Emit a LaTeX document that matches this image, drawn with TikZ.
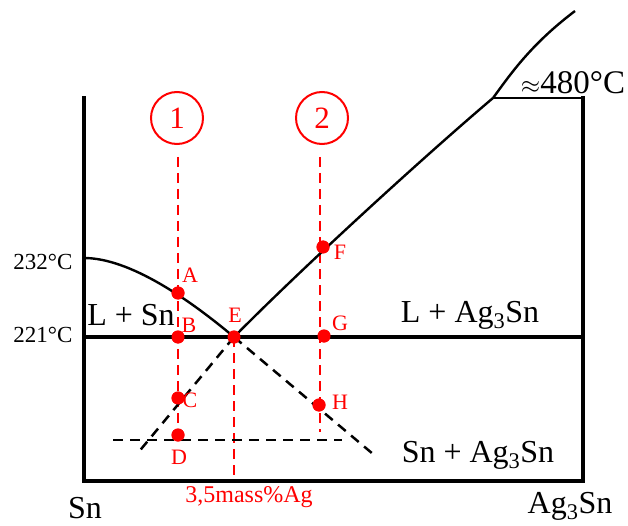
\documentclass[tikz,border=0pt]{standalone}
\usepackage{fontspec}
\setmainfont{Liberation Serif}
\usepackage{tikz}
\usetikzlibrary{positioning,calc}
\tikzset{
  axisline/.style={line width=4pt, line cap=rect},
  phaseline/.style={line width=2.4pt},
  eutline/.style={line width=3.5pt},
  blackdash/.style={line width=2.5pt, dash pattern=on 10pt off 7pt},
  reddash/.style={red, line width=2pt, dash pattern=on 10pt off 6pt},
  pt/.style={circle, fill=red, minimum size=13pt, inner sep=0pt},
  ptlabel/.style={red, font=\fontsize{22}{22}\selectfont, inner sep=0pt},
  complabel/.style={red, font=\fontsize{24}{24}\selectfont, inner sep=0pt},
  templabel/.style={font=\fontsize{23}{23}\selectfont, inner sep=0pt},
  phaselabel/.style={font=\fontsize{32}{32}\selectfont, inner sep=0pt},
  alloy/.style={circle, draw=red, line width=2pt, minimum size=52pt, inner sep=0pt, text=red, font=\fontsize{31}{31}\selectfont},
}
\begin{document}
\begin{tikzpicture}[x=1pt, y=-1pt]
  \useasboundingbox (0,0) rectangle (628,526);

  \coordinate (tl) at (84,98);
  \coordinate (bl) at (84,481);
  \coordinate (br) at (583,481);
  \coordinate (tr) at (583,98);
  \coordinate (kink) at (493,98);
  \coordinate (top) at (575,11);
  \coordinate (snmelt) at (84,258);
  \coordinate (eutl) at (84,337);
  \coordinate (eutr) at (583,337);

  \node[pt] (E) at (234,337) {};
  \node[pt] (A) at (178,293) {};
  \node[pt] (B) at (178,337) {};
  \node[pt] (C) at (178,398) {};
  \node[pt] (D) at (178,435) {};
  \node[pt] (F) at (323,247) {};
  \node[pt] (G) at (324,336) {};
  \node[pt] (H) at (319,405) {};

  \node[alloy] (one) at (177,118) {1};
  \node[alloy] (two) at (322,118) {2};

  \coordinate (d1l) at (137,454);
  \coordinate (d1r) at (373,454);
  \coordinate (hl) at (113,440);
  \coordinate (hr) at (342,440);
  \coordinate (one0) at (178,157);
  \coordinate (two0) at (320,157);
  \coordinate (two1) at (320,432);

  % red alloy lines
  \draw[reddash] (one0) -- (D.center);
  \draw[reddash] (two0) -- (two1);
  \draw[reddash] (E.center) -- (E.center |- br);

  % solubility lines
  \draw[blackdash] (E.center) -- (d1l);
  \draw[blackdash] (E.center) -- (d1r);
  \draw[blackdash] (hl) -- (hr);

  % axes and phase boundaries
  \draw[axisline] (tl) -- (bl) -- (br) -- (tr);
  \draw[eutline] (eutl) -- (eutr);
  \draw[phaseline] (kink) -- (tr);
  \draw[phaseline] (snmelt) .. controls (130,258) and (190,300) .. (E.center);
  \draw[phaseline] (E.center) .. controls (300,270) and (420,160) .. (kink);
  \draw[phaseline] (kink) .. controls (510,75) and (530,45) .. (top);

  \foreach \p in {A,B,C,D,E,F,G,H}
    \node[pt] at (\p) {};

  \node[ptlabel] (labA) at (190,275) {A};
  \node[ptlabel] (labB) at (189,325) {B};
  \node[ptlabel] (labC) at (190,400) {C};
  \node[ptlabel] (labD) at (179,457) {D};
  \node[ptlabel] (labE) at (235,315) {E};
  \node[ptlabel] (labF) at (340,252) {F};
  \node[ptlabel] (labG) at (340,323) {G};
  \node[ptlabel] (labH) at (340,402) {H};
  \node[complabel] (comp) at (249,497) {3,5mass\%Ag};

  \node[templabel] (t232) at (43,262) {232°C};
  \node[templabel] (t221) at (43,335) {221°C};
  \node[phaselabel, font=\fontsize{33}{33}\selectfont] (t480) at (573,83) {$\approx$480°C};

  \node[phaselabel] (lsn) at (131,315) {L + Sn};
  \node[phaselabel] (lag) at (470,315) {L + Ag\textsubscript{3}Sn};
  \node[phaselabel] (snag) at (478,455) {Sn + Ag\textsubscript{3}Sn};
  \node[phaselabel] (sn) at (85,508) {Sn};
  \node[phaselabel] (ag) at (570,506) {Ag\textsubscript{3}Sn};
\end{tikzpicture}
\end{document}
